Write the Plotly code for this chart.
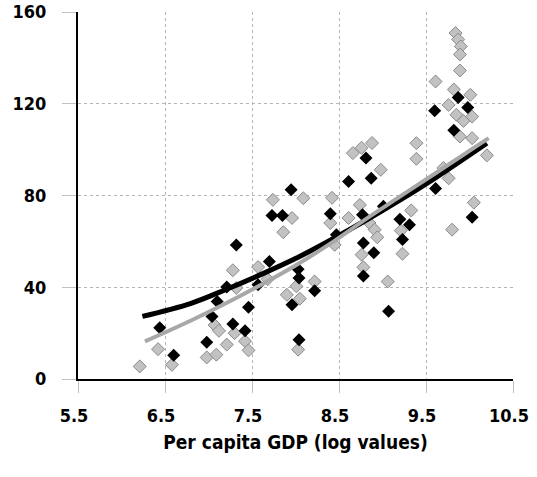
import plotly.graph_objects as go

# Black diamonds (series A)
black_x = [6.44, 6.60, 6.98, 7.04, 7.10, 7.21, 7.32, 7.28, 7.42, 7.46, 7.57, 7.70, 7.73, 7.85,
           7.95, 7.96, 8.04, 8.03, 8.04, 8.22, 8.40, 8.47, 8.61, 8.77, 8.78, 8.78, 8.81, 8.87,
           8.90, 9.01, 9.07, 9.20, 9.23, 9.31, 9.60, 9.61, 9.82, 9.87, 9.98, 10.03]
black_y = [22.3, 10.3, 16.0, 27.3, 33.8, 40.1, 58.4, 24.0, 21.0, 31.3, 41.1, 51.2, 71.3, 71.3,
           82.5, 32.4, 17.1, 47.8, 44.0, 38.5, 72.0, 62.9, 86.1, 71.6, 59.3, 44.9, 96.3, 87.5,
           55.0, 75.3, 29.5, 69.6, 60.8, 67.2, 117.0, 83.0, 108.4, 122.7, 118.4, 70.5]

# Grey diamonds (series B)
grey_x = [6.21, 6.42, 6.58, 6.98, 7.09, 7.07, 7.12, 7.21, 7.30, 7.42, 7.46, 7.28, 7.32, 7.57,
          7.68, 7.74, 7.86, 7.96, 7.90, 8.01, 8.05, 8.03, 8.09, 8.22, 8.42, 8.40, 8.61, 8.74,
          8.45, 8.85, 8.91, 8.94, 8.76, 8.78, 9.06, 8.66, 8.76, 8.88, 8.98, 9.39, 9.39, 9.33,
          9.21, 9.23, 9.61, 9.84, 9.87, 9.90, 9.89, 9.89, 9.82, 10.01, 9.76, 9.85, 9.93, 10.03,
          9.89, 10.03, 10.20, 9.76, 10.05, 9.80, 9.70]
grey_y = [5.5, 13.0, 6.2, 9.4, 10.6, 23.5, 21.0, 15.0, 20.0, 16.5, 12.5, 47.4, 39.7, 48.8,
          43.5, 78.1, 64.0, 70.2, 36.7, 40.4, 35.0, 12.8, 78.8, 42.5, 79.0, 68.0, 70.2, 75.9,
          58.5, 68.0, 65.1, 61.8, 54.2, 48.7, 42.5, 98.5, 100.8, 102.9, 91.2, 102.8, 96.0, 73.5,
          64.7, 54.6, 129.7, 150.8, 148.0, 145.0, 141.5, 134.5, 126.2, 123.9, 119.5, 115.2, 112.5, 114.4,
          105.7, 105.0, 97.5, 87.5, 76.9, 65.1, 92.0]

# Fitted curves
black_fit_x = [6.24, 6.8, 7.2, 7.6, 8.0, 8.4, 8.8, 9.2, 9.6, 10.2]
black_fit_y = [27.3, 33.0, 39.0, 45.5, 52.5, 60.5, 69.0, 78.0, 87.5, 102.8]
grey_fit_x = [6.27, 6.8, 7.2, 7.6, 8.0, 8.4, 8.8, 9.2, 9.6, 10.22]
grey_fit_y = [16.4, 25.5, 33.0, 41.0, 49.5, 59.0, 69.5, 79.5, 89.5, 105.0]

x_ticks = [5.5, 6.5, 7.5, 8.5, 9.5, 10.5]
x_labels = ["5.5", "6.5", "7.5", "8.5", "9.5", "10.5"]
y_ticks = [0, 40, 80, 120, 160]

FONT = "DejaVu Sans Condensed, Liberation Sans Narrow, Liberation Sans, sans-serif"

fig = go.Figure()
fig.add_trace(go.Scatter(x=grey_x, y=grey_y, mode="markers",
                         marker=dict(symbol="diamond", size=10, color="#c2c2c2",
                                     line=dict(color="#8a8a8a", width=1)),
                         showlegend=False))
fig.add_trace(go.Scatter(x=black_x, y=black_y, mode="markers",
                         marker=dict(symbol="diamond", size=10, color="#000000",
                                     line=dict(width=0)),
                         showlegend=False))
fig.add_trace(go.Scatter(x=black_fit_x, y=black_fit_y, mode="lines",
                         line=dict(color="#000000", width=5, shape="spline"),
                         showlegend=False))
fig.add_trace(go.Scatter(x=grey_fit_x, y=grey_fit_y, mode="lines",
                         line=dict(color="#a8a8a8", width=4, shape="spline"),
                         showlegend=False))

fig.update_layout(
    width=537, height=477,
    margin=dict(l=78, r=24, t=12, b=98),
    paper_bgcolor="white", plot_bgcolor="white",
    font=dict(family=FONT, size=19, color="black"),
)
fig.update_xaxes(range=[5.5, 10.5], tickvals=x_ticks, ticktext=x_labels,
                 automargin=False,
                 showgrid=True, gridcolor="#b5b5b5", gridwidth=1, griddash="dot",
                 showline=True, linecolor="black", linewidth=2,
                 ticks="outside", ticklen=12, tickcolor="#c0c0c0", tickwidth=1,
                 ticklabelstandoff=7, ticklabelshift=-4, ticklabeloverflow="allow",
                 zeroline=False,
                 tickfont=dict(family=FONT, size=18, weight="bold"),
                 title=dict(text="<b>Per capita GDP (log values)</b>", standoff=11,
                            font=dict(family=FONT, size=19)))
fig.update_yaxes(range=[0, 160], tickvals=y_ticks,
                 automargin=False,
                 showgrid=True, gridcolor="#b5b5b5", gridwidth=1, griddash="dot",
                 showline=True, linecolor="black", linewidth=2,
                 ticks="outside", ticklen=14, tickcolor="#c0c0c0", tickwidth=1,
                 ticklabelstandoff=12, zeroline=False,
                 tickfont=dict(family=FONT, size=18, weight="bold"))

fig.write_html("out.html", config={"displayModeBar": False},
               post_script="document.body.style.margin='0';")
